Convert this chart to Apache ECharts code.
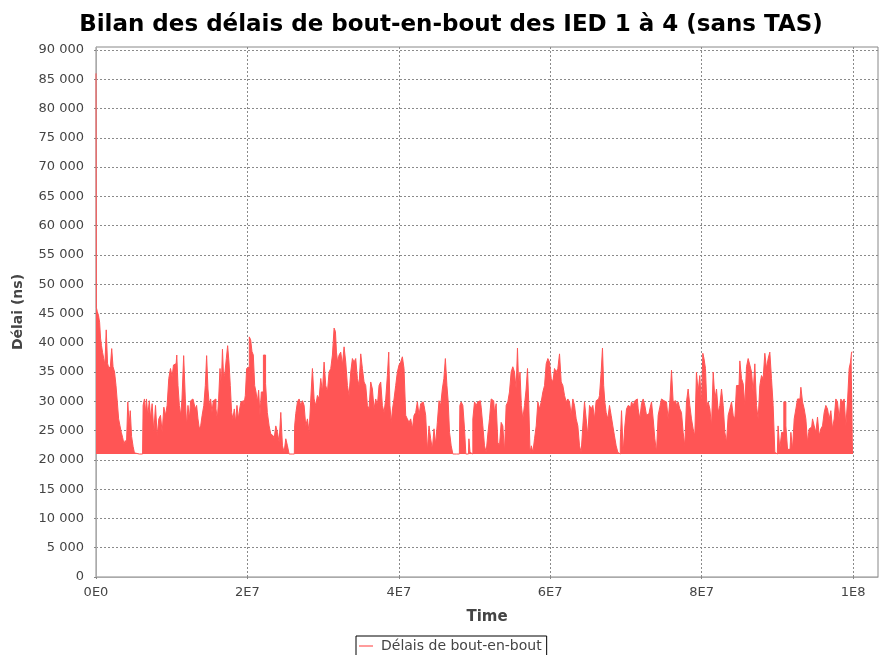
<!DOCTYPE html>
<html>
<head>
<meta charset="utf-8">
<script src="https://cdn.jsdelivr.net/npm/echarts@6/dist/echarts.min.js"></script>
<style>
  html, body { margin: 0; padding: 0; background: #ffffff; }
  #chart { width: 880px; height: 655px; }
</style>
</head>
<body>
<div id="chart"></div>
<script>
// Sample times, in units of 1e6
var timeE6 = [
  0, 0.1, 0.25, 0.4, 0.55, 0.65, 0.8, 0.95, 1.1, 1.25, 1.45, 1.6, 1.8, 2.0, 2.15, 2.35, 2.55, 2.73, 2.9, 3.08,
  3.26, 3.43, 3.61, 3.78, 3.95, 4.1, 4.3, 4.45, 4.6, 4.8, 5.0, 5.15, 5.3, 6.15, 6.3, 6.5, 6.6, 6.73, 6.95, 7.13,
  7.3, 7.53, 7.75, 7.97, 8.19, 8.41, 8.63, 8.85, 9.07, 9.29, 9.5, 9.73, 9.95, 10.17, 10.3, 10.48, 10.6, 10.74, 10.92, 11.1,
  11.27, 11.45, 11.71, 11.89, 12.06, 12.24, 12.42, 12.59, 12.81, 13.03, 13.2, 13.38, 13.56, 13.74, 13.91, 14.13, 14.35, 14.53, 14.7, 14.88,
  15.06, 15.23, 15.41, 15.58, 15.76, 15.94, 16.11, 16.29, 16.47, 16.64, 16.77, 16.95, 17.13, 17.3, 17.48, 17.65, 17.83, 18.0, 18.18, 18.36,
  18.53, 18.71, 18.89, 19.06, 19.24, 19.42, 19.64, 19.81, 19.99, 20.16, 20.34, 20.52, 20.69, 20.87, 21.05, 21.22, 21.4, 21.57, 21.75, 21.93,
  22.3, 22.5, 22.76, 22.98, 23.2, 23.42, 23.64, 23.86, 24.08, 24.3, 24.52, 24.74, 24.96, 25.18, 25.4, 25.62, 26.2, 26.28, 26.5, 26.72,
  26.94, 27.16, 27.38, 27.6, 27.82, 28.04, 28.26, 28.48, 28.7, 28.92, 29.14, 29.36, 29.58, 29.8, 30.02, 30.24, 30.46, 30.68, 30.9, 31.12,
  31.34, 31.56, 31.7, 31.83, 32.0, 32.22, 32.44, 32.66, 32.88, 33.1, 33.32, 33.54, 33.76, 33.98, 34.2, 34.42, 34.64, 34.86, 35.08, 35.3,
  35.52, 35.74, 35.96, 36.18, 36.4, 36.62, 36.84, 37.06, 37.28, 37.5, 37.72, 37.94, 38.16, 38.38, 38.6, 38.74, 38.91, 39.08, 39.26, 39.48,
  39.7, 39.92, 40.14, 40.36, 40.58, 40.8, 41.02, 41.24, 41.46, 41.68, 41.9, 42.12, 42.34, 42.56, 42.78, 43.0, 43.22, 43.44, 43.66, 43.88,
  44.1, 44.32, 44.54, 44.76, 44.98, 45.2, 45.42, 45.64, 45.86, 46.05, 46.25, 46.46, 46.59, 46.81, 47.03, 47.25, 48.0, 48.13, 48.35, 48.57,
  48.79, 48.92, 49.2, 49.32, 49.5, 49.67, 49.89, 50.11, 50.33, 50.55, 50.77, 50.99, 51.21, 51.43, 51.65, 51.87, 52.09, 52.31, 52.53, 52.75,
  52.97, 53.19, 53.41, 53.63, 53.85, 54.07, 54.29, 54.51, 54.73, 54.95, 55.17, 55.39, 55.61, 55.74, 55.92, 56.1, 56.27, 56.49, 56.71, 56.93,
  57.07, 57.25, 57.42, 57.6, 57.82, 58.04, 58.26, 58.48, 58.7, 58.92, 59.14, 59.36, 59.58, 59.8, 60.02, 60.24, 60.46, 60.68, 60.9, 61.12,
  61.34, 61.56, 61.78, 62.0, 62.22, 62.44, 62.66, 62.88, 63.1, 63.32, 63.54, 63.76, 63.98, 64.2, 64.42, 64.64, 64.86, 65.08, 65.3, 65.52,
  65.74, 65.96, 66.18, 66.4, 66.62, 66.84, 66.97, 67.15, 67.28, 67.5, 67.72, 67.94, 68.16, 68.38, 68.6, 68.82, 69.04, 69.2, 69.31, 69.53,
  69.75, 69.97, 70.19, 70.41, 70.63, 70.85, 71.07, 71.29, 71.51, 71.73, 71.95, 72.17, 72.39, 72.61, 72.83, 73.05, 73.27, 73.49, 73.71, 73.93,
  74.15, 74.37, 74.59, 74.81, 75.03, 75.25, 75.47, 75.69, 75.91, 76.13, 76.35, 76.57, 76.79, 77.01, 77.23, 77.45, 77.67, 77.89, 78.11, 78.33,
  78.55, 78.77, 78.99, 79.21, 79.43, 79.65, 79.87, 80.09, 80.23, 80.4, 80.62, 80.76, 80.98, 81.2, 81.42, 81.64, 81.86, 82.08, 82.3, 82.52,
  82.74, 82.96, 83.18, 83.4, 83.62, 83.84, 84.06, 84.28, 84.5, 84.72, 84.94, 85.16, 85.38, 85.6, 85.82, 86.04, 86.26, 86.48, 86.7, 86.92,
  87.14, 87.36, 87.58, 87.8, 88.02, 88.24, 88.46, 88.68, 88.9, 89.12, 89.34, 89.56, 89.78, 90.0, 90.2, 90.45, 90.7, 91.02, 91.24, 91.46,
  91.68, 91.9, 92.12, 92.34, 92.56, 92.78, 93.0, 93.22, 93.44, 93.66, 93.88, 94.1, 94.32, 94.54, 94.76, 94.98, 95.2, 95.42, 95.64, 95.86,
  96.08, 96.3, 96.52, 96.74, 96.96, 97.18, 97.4, 97.62, 97.84, 98.06, 98.28, 98.5, 98.72, 98.94, 99.16, 99.38, 99.6, 99.74, 99.87, 100.0
];

// End-to-end delay (ns) at each sample time
var delayNs = [
  86000, 46000, 45300, 44700, 43500, 40800, 39500, 38300, 37300, 36200, 42200, 36500, 35600, 36000, 39000, 35900, 35000, 32700, 29900, 27000,
  25800, 24700, 23800, 22700, 23300, 22600, 29900, 26000, 28400, 24000, 22300, 21200, 21000, 21000, 29300, 30400, 28000, 30400, 27500, 30100,
  27000, 29600, 24700, 29300, 24100, 27000, 27600, 24700, 29000, 27600, 29300, 33900, 35600, 34200, 36200, 36400, 35600, 37900, 32700, 29300,
  27600, 30400, 37800, 30400, 25800, 29300, 27000, 30100, 30400, 30700, 28700, 29300, 27000, 25300, 25800, 27600, 29300, 32700, 37800, 32100,
  29300, 30400, 28100, 30100, 30400, 28700, 27000, 30400, 35600, 32700, 38900, 33900, 35000, 37300, 39500, 36700, 32700, 28100, 27000, 28700,
  26400, 29300, 27000, 28700, 29900, 30100, 29300, 31000, 35600, 35900, 41000, 40500, 38500, 37900, 32700, 31600, 29900, 31900, 27600, 31600,
  37900, 33000, 28100, 25800, 24400, 24100, 23600, 25800, 24700, 23000, 28100, 22400, 21300, 23600, 22400, 21000, 21000, 25800, 27900, 29900,
  30400, 29300, 30100, 29300, 25800, 27000, 24700, 30400, 35600, 30400, 29300, 31000, 30400, 33900, 31600, 36700, 32700, 31600, 35000, 35600,
  37900, 42500, 41900, 38400, 36700, 37900, 38400, 36200, 39300, 36700, 32700, 31000, 35000, 37300, 36700, 37300, 33900, 32700, 38100, 35600,
  33300, 32700, 29300, 28700, 33300, 32100, 28700, 30400, 29300, 32700, 33300, 29300, 28100, 30400, 34400, 38400, 29300, 26400, 28700, 30400,
  32700, 35000, 36200, 36700, 37600, 35600, 27600, 27000, 26400, 27000, 25300, 27600, 28100, 29900, 27600, 29600, 29900, 29300, 27600, 21500,
  25800, 23600, 21800, 25300, 22700, 26400, 30100, 29300, 32100, 33900, 37300, 32700, 29900, 24700, 22400, 21000, 21000, 29300, 29900, 29300,
  25300, 21000, 21000, 23600, 21300, 21000, 27000, 29900, 29300, 29900, 30100, 29000, 25800, 22400, 21300, 24400, 27000, 30400, 30100, 28100,
  29600, 23000, 22400, 26400, 25800, 21300, 29300, 29900, 31600, 35000, 35900, 35000, 32100, 39100, 32700, 35000, 29300, 27000, 29300, 32100,
  35600, 29900, 21300, 22400, 21300, 23600, 25800, 29900, 28700, 29900, 31600, 32700, 36400, 37300, 36700, 33900, 33300, 35600, 35000, 35600,
  38100, 33300, 32700, 31000, 29900, 30400, 29900, 27600, 30400, 29300, 27000, 25800, 22400, 21300, 25800, 29900, 27000, 24100, 29300, 28700,
  29300, 27000, 30100, 30400, 31000, 35000, 39100, 32700, 29900, 28100, 27000, 29300, 27600, 25800, 24100, 22400, 21300, 21000, 22900, 28400,
  21300, 25800, 28700, 29300, 29000, 29900, 29300, 30100, 30400, 28700, 27000, 29600, 30400, 29300, 27600, 27900, 28700, 29900, 27000, 23600,
  21300, 27600, 29000, 30400, 30100, 29900, 30100, 27000, 29900, 35300, 29900, 30100, 29300, 29900, 28700, 28100, 24700, 22400, 29900, 32100,
  29300, 27000, 25300, 24100, 35000, 31600, 34400, 29300, 38200, 37300, 35600, 29300, 29900, 28700, 25800, 35000, 30400, 32100, 28100, 29300,
  32100, 29300, 24700, 23000, 27600, 28700, 29900, 27600, 27000, 32700, 32700, 36900, 33900, 33000, 29300, 35900, 37300, 36200, 35000, 31600,
  36400, 29300, 27000, 32700, 34400, 33900, 38200, 35600, 37300, 38400, 33900, 29300, 21300, 21000, 25800, 21800, 24700, 29900, 25800, 21800,
  21800, 24700, 21800, 27000, 28700, 30400, 30400, 32400, 29900, 28700, 27000, 23000, 25300, 25600, 27000, 25800, 24700, 27300, 24100, 25300,
  25800, 28100, 29300, 28700, 27000, 28400, 25300, 27000, 30400, 29900, 27000, 30400, 29900, 30400, 25800, 29900, 35600, 36700, 38400, 38400
];

// Axis tick positions
var xTicks = [0, 2e7, 4e7, 6e7, 8e7, 1e8];
var yTicks = [0, 5000, 10000, 15000, 20000, 25000, 30000, 35000, 40000, 45000,
              50000, 55000, 60000, 65000, 70000, 75000, 80000, 85000, 90000];

var seriesName = 'Délais de bout-en-bout';
var chartTitle = 'Bilan des délais de bout-en-bout des IED 1 à 4 (sans TAS)';
var xAxisName = 'Time';
var yAxisName = 'Délai (ns)';
var delayFloor = 21000;   // lower edge of the filled band
var xMax = 1.033e8;
var yMax = 90500;

var points = timeE6.map(function (t, i) { return [t * 1e6, delayNs[i]]; });

function formatX(v) {
  return v.toExponential(0).replace('e+', 'E').replace('e-', 'E-');
}
function formatY(v) {
  return String(v).replace(/\B(?=(\d{3})+(?!\d))/g, ' ');
}

var labelColor = '#444444';
var fontFamily = 'DejaVu Sans, sans-serif';
var gridLine = { show: true, lineStyle: { color: '#8a8a8a', type: [2, 2], width: 1 } };

var chart = echarts.init(document.getElementById('chart'), null, { renderer: 'canvas' });
chart.setOption({
  animation: false,
  backgroundColor: '#ffffff',
  title: {
    text: chartTitle,
    left: 451,
    top: 14,
    padding: 0,
    textAlign: 'center',
    textStyle: { fontFamily: fontFamily, fontWeight: 'bold', fontSize: 23, color: '#000000' }
  },
  grid: {
    left: 96, right: 2, top: 47, bottom: 78,
    show: true, borderColor: '#888888', borderWidth: 1, backgroundColor: '#ffffff'
  },
  legend: {
    data: [{ name: seriesName, icon: 'rect', itemStyle: { color: '#ff9c9c' } }],
    left: 356, top: 636,
    padding: [3, 5, 4, 3],
    borderColor: '#000000', borderWidth: 1,
    itemWidth: 14, itemHeight: 2, itemGap: 4,
    textStyle: { fontFamily: fontFamily, fontSize: 14, color: labelColor, padding: [0, 0, 0, 3] }
  },
  xAxis: {
    type: 'value',
    min: 0, max: xMax,
    offset: 4,
    name: xAxisName,
    nameLocation: 'middle',
    nameGap: 29,
    nameTextStyle: { fontFamily: fontFamily, fontWeight: 'bold', fontSize: 15, color: labelColor },
    axisLine: { show: true, lineStyle: { color: '#aaaaaa', width: 1 } },
    axisTick: { show: true, length: 2, customValues: xTicks, lineStyle: { color: '#888888' } },
    axisLabel: { formatter: formatX, customValues: xTicks, margin: 5, fontFamily: fontFamily, fontSize: 13, color: labelColor },
    splitLine: gridLine
  },
  yAxis: {
    type: 'value',
    min: 0, max: yMax,
    offset: 4,
    name: yAxisName,
    nameLocation: 'middle',
    nameGap: 67,
    nameTextStyle: { fontFamily: fontFamily, fontWeight: 'bold', fontSize: 14, color: labelColor },
    axisLine: { show: true, lineStyle: { color: '#aaaaaa', width: 1 } },
    axisTick: { show: true, length: 2, customValues: yTicks, lineStyle: { color: '#888888' } },
    axisLabel: { formatter: formatY, customValues: yTicks, margin: 8, fontFamily: fontFamily, fontSize: 13, color: labelColor },
    splitLine: gridLine
  },
  series: [{
    name: seriesName,
    type: 'line',
    data: points,
    step: 'middle',
    showSymbol: false,
    symbol: 'none',
    sampling: null,
    lineStyle: { color: '#ff5555', width: 1 },
    itemStyle: { color: '#ff5555' },
    areaStyle: { color: '#ff5555', opacity: 1, origin: delayFloor }
  }]
});
</script>
</body>
</html>
